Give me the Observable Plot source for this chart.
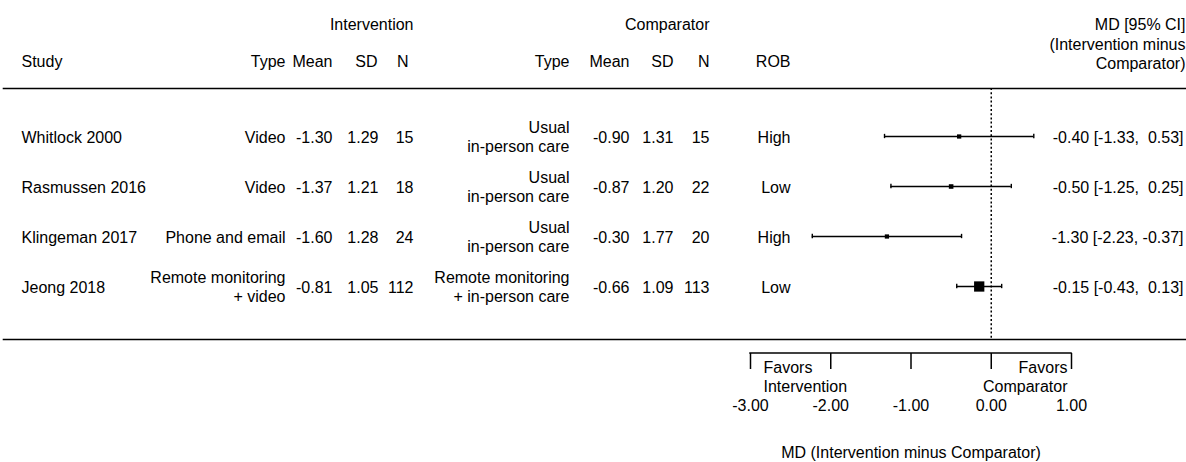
<!DOCTYPE html>
<html>
<head>
<meta charset="utf-8">
<script src="https://cdn.jsdelivr.net/npm/d3@7"></script>
<script src="https://cdn.jsdelivr.net/npm/@observablehq/plot@0.6"></script>
<style>
  html, body { margin: 0; padding: 0; background: #fff; }
</style>
</head>
<body>
<div id="chart"></div>
<script>
// ---------------- data ----------------
const studies   = ["Whitlock 2000", "Rasmussen 2016", "Klingeman 2017", "Jeong 2018"];
const intType   = ["Video", "Video", "Phone and email", "Remote monitoring\n+ video"];
const intMean   = [-1.30, -1.37, -1.60, -0.81];
const intSD     = [1.29, 1.21, 1.28, 1.05];
const intN      = [15, 18, 24, 112];
const compType  = ["Usual\nin-person care", "Usual\nin-person care", "Usual\nin-person care", "Remote monitoring\n+ in-person care"];
const compMean  = [-0.90, -0.87, -0.30, -0.66];
const compSD    = [1.31, 1.20, 1.77, 1.09];
const compN     = [15, 22, 20, 113];
const rob       = ["High", "Low", "High", "Low"];
const md        = [-0.40, -0.50, -1.30, -0.15];
const ciLow     = [-1.33, -1.25, -2.23, -0.43];
const ciHigh    = [0.53, 0.25, -0.37, 0.13];
const axisTicks = [-3, -2, -1, 0, 1];
const nullEffect = 0;
const xLabel    = "MD (Intervention minus Comparator)";
const favorsLeft  = "Favors\nIntervention";
const favorsRight = "Favors\nComparator";

// ---------------- layout (pixels) ----------------
const W = 1186, H = 462;
const M = {top: 88, bottom: 123, left: 3, right: 0};
const xRange = [750, 1071];
const rowStep = 50.67;
const firstRow = 135;
const yRange = [firstRow - rowStep / 2, firstRow - rowStep / 2 + rowStep * 4];
const capHalf = 2.5;
const FS = 16;
const LH = 1.2;

// inverse-variance weights derived from the confidence intervals
const rows = studies.map((s, i) => {
  const se = (ciHigh[i] - ciLow[i]) / (2 * 1.96);
  return {
    study: s, iType: intType[i], iMean: intMean[i], iSD: intSD[i], iN: intN[i],
    cType: compType[i], cMean: compMean[i], cSD: compSD[i], cN: compN[i],
    rob: rob[i], md: md[i], lo: ciLow[i], hi: ciHigh[i], w: 1 / (se * se)
  };
});

const f2 = v => v.toFixed(2);
const mdText = d => `${f2(d.md)} [${f2(d.lo)},\u00a0${d.hi >= 0 ? "\u00a0" : ""}${f2(d.hi)}]`;

function column(text, px, anchor) {
  return Plot.text(rows, {
    y: "study", text, frameAnchor: "left", dx: px - M.left,
    textAnchor: anchor, lineAnchor: "middle", lineHeight: LH, fill: "black"
  });
}
function header(label, px, py, anchor) {
  return Plot.text([label], {
    text: d => d, frameAnchor: "top-left", dx: px - M.left, dy: py - M.top,
    textAnchor: anchor, lineAnchor: "middle", lineHeight: LH, fill: "black"
  });
}
// axis baseline drawn through the x scale
const axisGap = 14;
function axisBaseline(index, scales, values, dims) {
  const y = dims.height - dims.marginBottom + axisGap;
  const [a, b] = d3.extent(axisTicks).map(scales.x);
  return d3.create("svg:line")
    .attr("x1", a).attr("x2", b).attr("y1", y).attr("y2", y)
    .attr("stroke", "black").attr("stroke-width", 1.5)
    .attr("stroke-linecap", "square").node();
}

const capInset = rowStep / 2 - capHalf;

const chart = Plot.plot({
  width: W, height: H,
  marginTop: M.top, marginBottom: M.bottom, marginLeft: M.left, marginRight: M.right,
  style: {fontFamily: "'Liberation Sans', Arial, Helvetica, sans-serif", fontSize: FS + "px", background: "#fff", color: "black"},
  x: {domain: d3.extent(axisTicks), range: xRange, label: null},
  y: {type: "band", domain: studies, range: yRange, paddingInner: 0, paddingOuter: 0, axis: null},
  r: {type: "linear", domain: d3.extent(rows, d => d.w), range: [2.4, 5.8]},
  marks: [
    Plot.frame({anchor: "top", strokeWidth: 1.6, stroke: "black"}),
    Plot.frame({anchor: "bottom", strokeWidth: 1.6, stroke: "black"}),
    Plot.ruleX([nullEffect], {strokeDasharray: "2,2.2", strokeWidth: 1.5, stroke: "black"}),

    // headers
    header("Intervention", 413, 23, "end"),
    header("Comparator", 709, 23, "end"),
    header("MD [95% CI]", 1185, 23, "end"),
    header("(Intervention minus\nComparator)", 1185, 53, "end"),
    header("Study", 21, 60, "start"),
    header("Type", 285, 60, "end"),
    header("Mean", 332, 60, "end"),
    header("SD", 377, 60, "end"),
    header("N", 408, 60, "end"),
    header("Type", 569, 60, "end"),
    header("Mean", 629, 60, "end"),
    header("SD", 673, 60, "end"),
    header("N", 709, 60, "end"),
    header("ROB", 790, 60, "end"),

    // table columns
    column("study", 21, "start"),
    column("iType", 285, "end"),
    column(d => f2(d.iMean), 332, "end"),
    column(d => f2(d.iSD), 378, "end"),
    column(d => String(d.iN), 413, "end"),
    column("cType", 569, "end"),
    column(d => f2(d.cMean), 629, "end"),
    column(d => f2(d.cSD), 673, "end"),
    column(d => String(d.cN), 709, "end"),
    column("rob", 790, "end"),
    column(mdText, 1183, "end"),

    // forest
    Plot.ruleY(rows, {y: "study", x1: "lo", x2: "hi", strokeWidth: 1.4, stroke: "black"}),
    Plot.tickX(rows, {x: "lo", y: "study", insetTop: capInset, insetBottom: capInset, strokeWidth: 1.4, stroke: "black"}),
    Plot.tickX(rows, {x: "hi", y: "study", insetTop: capInset, insetBottom: capInset, strokeWidth: 1.4, stroke: "black"}),
    Plot.dot(rows, {x: "md", y: "study", r: "w", symbol: "square", fill: "black", stroke: null}),

    // custom axis
    axisBaseline,
    Plot.axisX(axisTicks, {
      anchor: "bottom", tickSize: 16, dy: axisGap, tickPadding: 30,
      tickFormat: f2, strokeWidth: 1.5, stroke: "black", fill: "black", label: null
    }),
    Plot.text([favorsLeft], {
      text: d => d, x: () => axisTicks[0], frameAnchor: "bottom", dy: 36.5, dx: 13,
      textAnchor: "start", lineAnchor: "middle", lineHeight: LH, fill: "black"
    }),
    Plot.text([favorsRight], {
      text: d => d, x: () => axisTicks[axisTicks.length - 1], frameAnchor: "bottom", dy: 36.5, dx: -4,
      textAnchor: "end", lineAnchor: "middle", lineHeight: LH, fill: "black"
    }),
    Plot.text([xLabel], {
      text: d => d, x: () => d3.mean(axisTicks), frameAnchor: "bottom", dy: 113,
      lineAnchor: "middle", fill: "black"
    })
  ]
});
document.getElementById("chart").appendChild(chart);
</script>
</body>
</html>
